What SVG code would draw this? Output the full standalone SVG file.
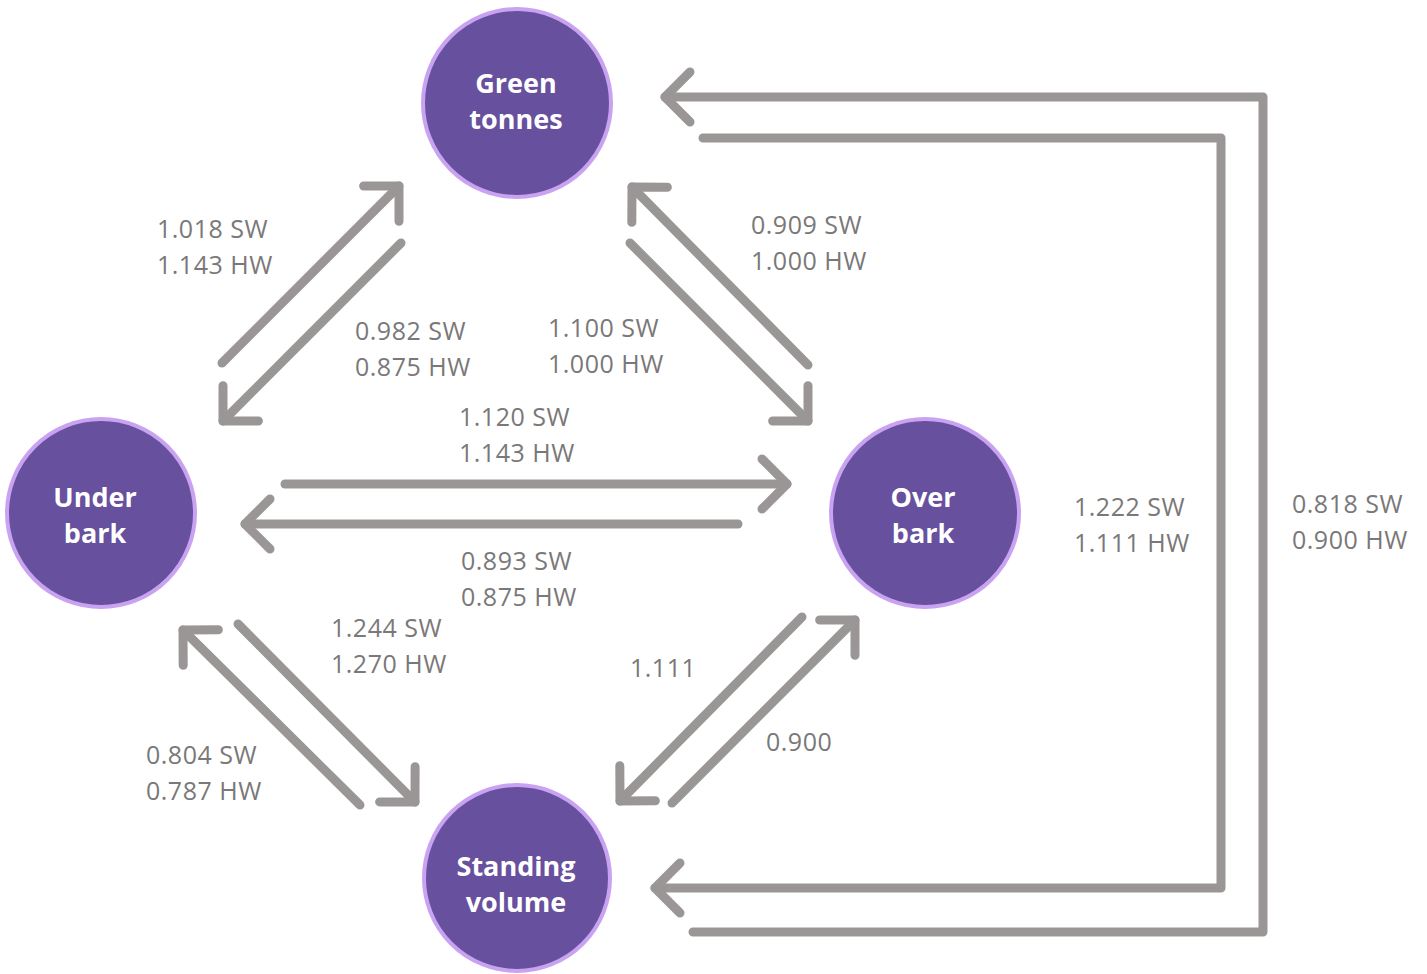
<svg xmlns="http://www.w3.org/2000/svg" width="1427" height="974" viewBox="0 0 1427 974">
<style>
.node circle{fill:#67509d;stroke:#c9a3f2;stroke-width:4}
.node text{fill:#fff;font-family:"Open Sans","Liberation Sans",sans-serif;font-weight:bold;font-size:27px;text-anchor:middle}
.conn{fill:none;stroke:#9a9696;stroke-width:9;stroke-linecap:round;stroke-linejoin:round}
.lbl{fill:#7a7878;font-family:"Open Sans","Liberation Sans",sans-serif;font-size:25px;letter-spacing:0.5px}
</style>
<defs>
<marker id="ah" markerUnits="userSpaceOnUse" orient="auto" markerWidth="60" markerHeight="60" refX="0" refY="0" viewBox="-30 -30 60 60" overflow="visible">
<path d="M-25,-25 L0,0 L-25,25" fill="none" stroke="#9a9696" stroke-width="9" stroke-linecap="round" stroke-linejoin="round"/>
</marker>
</defs>
<rect width="1427" height="974" fill="#fff"/>
<g id="connectors" class="conn" marker-end="url(#ah)">
<path d="M222,363 L399,186"/>
<path d="M401,243 L223,421"/>
<path d="M808,365 L632,187"/>
<path d="M630,243 L808,421"/>
<path d="M285,484 L787,484"/>
<path d="M738,524 L245,524"/>
<path d="M360,805 L183,630"/>
<path d="M238,624 L415,802"/>
<path d="M802,617 L620,801"/>
<path d="M672,803 L855,620"/>
<path d="M693,932 L1263,932 L1263,97 L665,97"/>
<path d="M703,138 L1221,138 L1221,888 L655,888"/>
</g>
<g id="labels" class="lbl">
<text x="157" y="238">1.018 SW</text><text x="157" y="274">1.143 HW</text>
<text x="355" y="340">0.982 SW</text><text x="355" y="376">0.875 HW</text>
<text x="751" y="234">0.909 SW</text><text x="751" y="270">1.000 HW</text>
<text x="548" y="337">1.100 SW</text><text x="548" y="373">1.000 HW</text>
<text x="459" y="426">1.120 SW</text><text x="459" y="462">1.143 HW</text>
<text x="461" y="570">0.893 SW</text><text x="461" y="606">0.875 HW</text>
<text x="331" y="637">1.244 SW</text><text x="331" y="673">1.270 HW</text>
<text x="630" y="677">1.111</text>
<text x="146" y="764">0.804 SW</text><text x="146" y="800">0.787 HW</text>
<text x="766" y="751">0.900</text>
<text x="1074" y="516">1.222 SW</text><text x="1074" y="552">1.111 HW</text>
<text x="1292" y="513">0.818 SW</text><text x="1292" y="549">0.900 HW</text>
</g>
<g id="node-green" class="node"><circle cx="517" cy="103" r="94"/><text x="516" y="93">Green</text><text x="516" y="129">tonnes</text></g>
<g id="node-under" class="node"><circle cx="101" cy="513" r="94"/><text x="95" y="507">Under</text><text x="95" y="543">bark</text></g>
<g id="node-over" class="node"><circle cx="925" cy="513" r="94"/><text x="923" y="507">Over</text><text x="923" y="543">bark</text></g>
<g id="node-standing" class="node"><circle cx="517" cy="878" r="93"/><text x="516" y="876">Standing</text><text x="516" y="912">volume</text></g>
</svg>
